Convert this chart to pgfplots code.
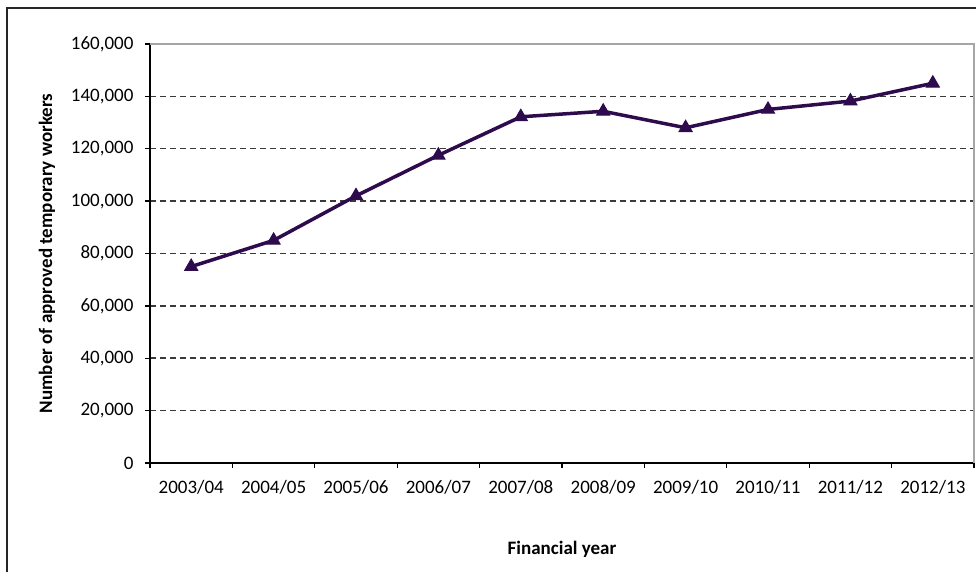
\documentclass[border=0pt]{standalone}
\usepackage{pgfplots}
\pgfplotsset{compat=1.18}
\usepackage{fontspec}
\setmainfont{Carlito}
\definecolor{linec}{HTML}{2E0B4C}
\definecolor{gridc}{HTML}{3A3A3A}
\definecolor{framec}{HTML}{A6A6A6}
\begin{document}
\begin{tikzpicture}[x=1bp,y=1bp]
\useasboundingbox (0,0) rectangle (976,572);
\draw[line width=1.2bp, black!85] (7,-5) -- (7,564) -- (981,564);
\begin{axis}[
  at={(150bp,109bp)}, anchor=south west,
  scale only axis, width=824bp, height=419bp,
  xmin=-0.5, xmax=9.5, ymin=0, ymax=160000,
  axis x line*=bottom, axis y line*=left,
  axis line style={black, line width=1.3bp, -},
  xtick={0,...,9},
  xticklabels={2003/04,2004/05,2005/06,2006/07,2007/08,2008/09,2009/10,2010/11,2011/12,2012/13},
  major x tick style={draw=none},
  minor xtick={-0.5,0.5,1.5,2.5,3.5,4.5,5.5,6.5,7.5,8.5,9.5},
  minor x tick style={black, line width=1.3bp},
  major y tick style={black, line width=1.3bp},
  tick align=outside,
  major tick length=5bp, minor tick length=5bp,
  ytick={0,20000,40000,60000,80000,100000,120000,140000,160000},
  yticklabels={0,{20,000},{40,000},{60,000},{80,000},{100,000},{120,000},{140,000},{160,000}},
  scaled y ticks=false,
  ymajorgrids,
  major grid style={gridc, line width=1.5bp, dash pattern=on 6bp off 4bp},
  tick label style={font=\fontsize{19bp}{22bp}\selectfont},
  xticklabel style={yshift=-9bp},
  yticklabel style={xshift=-8bp},
  xlabel={Financial year},
  ylabel={Number of approved temporary workers},
  every axis x label/.style={at={(axis description cs:0.5,0)}, anchor=center, yshift=-86bp, font=\fontsize{19bp}{22bp}\selectfont\bfseries},
  every axis y label/.style={at={(axis description cs:0,0.5)}, anchor=center, xshift=-103bp, rotate=90, font=\fontsize{19bp}{22bp}\selectfont\bfseries},
  after end axis/.code={
    \draw[framec, line width=1.3bp] (rel axis cs:0,1) -- (rel axis cs:1,1) -- (rel axis cs:1,0);
  },
  clip=false,
]
\addplot[linec, line width=3.5bp, mark=triangle*, mark size=7.5bp, mark options={fill=linec, solid, line width=1bp}]
coordinates {
(0,75000) (1,85000) (2,102000) (3,117500) (4,132200) (5,134300) (6,128000) (7,135000) (8,138200) (9,145000)
};
\end{axis}
\end{tikzpicture}
\end{document}
